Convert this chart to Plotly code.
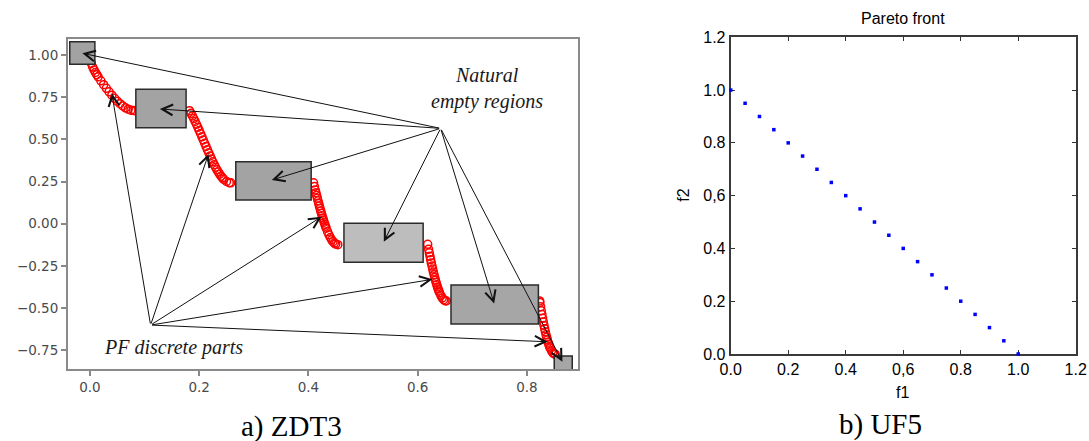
import plotly.graph_objects as go

# ---------------- ZDT3 (left) : Pareto-front discrete parts ----------------
seg1_f1 = [0.0, 0.0025, 0.005, 0.0075, 0.010, 0.0125, 0.015, 0.020, 0.025, 0.030, 0.035,
           0.040, 0.045, 0.050, 0.055, 0.060, 0.065, 0.070, 0.075, 0.080, 0.083]
seg1_f2 = [1.0, 0.9498, 0.9285, 0.9116, 0.8969, 0.8834, 0.8707, 0.8468, 0.8242, 0.8025, 0.7817,
           0.7620, 0.7434, 0.7264, 0.7112, 0.6980, 0.6871, 0.6788, 0.6731, 0.6702, 0.6697]
seg2_f1 = [0.1822, 0.185, 0.1875, 0.190, 0.1925, 0.195, 0.1975, 0.200, 0.2025, 0.205, 0.2075,
           0.210, 0.2125, 0.215, 0.2175, 0.220, 0.2225, 0.225, 0.2275, 0.230, 0.2325, 0.235,
           0.2375, 0.240, 0.2425, 0.245, 0.250, 0.255, 0.2577]
seg2_f2 = [0.6699, 0.6539, 0.6388, 0.6228, 0.6062, 0.5889, 0.5711, 0.5528, 0.5341, 0.5151, 0.4961,
           0.4768, 0.4577, 0.4387, 0.4200, 0.4017, 0.3838, 0.3666, 0.3500, 0.3343, 0.3196, 0.3058,
           0.2933, 0.2818, 0.2718, 0.2630, 0.2500, 0.2431, 0.2422]
seg3_f1 = [0.4093, 0.411, 0.4125, 0.41375, 0.415, 0.41625, 0.4175, 0.41875, 0.420, 0.42125,
           0.4225, 0.42375, 0.425, 0.42625, 0.4275, 0.42875, 0.430, 0.43125, 0.4325,
           0.435, 0.4375, 0.440, 0.4425, 0.445, 0.4475, 0.450, 0.4538]
seg3_f2 = [0.2422, 0.2197, 0.1998, 0.1836, 0.1674, 0.1514, 0.1358, 0.1202, 0.1050, 0.0902,
           0.0756, 0.0614, 0.0476, 0.0341, 0.0211, 0.0085, -0.0036, -0.0153, -0.0264,
           -0.0471, -0.0656, -0.0818, -0.0955, -0.1066, -0.1151, -0.1208, -0.1242]
seg4_f1 = [0.6183, 0.620, 0.62125, 0.6225, 0.62375, 0.625, 0.62625, 0.6275, 0.62875, 0.630,
           0.63125, 0.6325, 0.63375, 0.635, 0.63625, 0.6375, 0.63875, 0.640, 0.6425,
           0.645, 0.6475, 0.650, 0.6525]
seg4_f2 = [-0.1225, -0.1518, -0.1728, -0.1933, -0.2132, -0.2325, -0.2513, -0.2693, -0.2867, -0.3034,
           -0.3194, -0.3346, -0.3490, -0.3627, -0.3755, -0.3874, -0.3985, -0.4087, -0.4264,
           -0.4402, -0.4502, -0.4562, -0.4583]
seg5_f1 = [0.8233, 0.82375, 0.825, 0.82625, 0.8275, 0.82875, 0.830, 0.83125, 0.8325, 0.83375,
           0.835, 0.83625, 0.8375, 0.83875, 0.840, 0.84125, 0.8425, 0.845, 0.8475, 0.850, 0.8518]
seg5_f2 = [-0.4579, -0.4668, -0.4917, -0.5157, -0.5389, -0.5612, -0.5825, -0.6029, -0.6222, -0.6406,
           -0.6578, -0.6739, -0.6889, -0.7027, -0.7154, -0.7269, -0.7371, -0.7538, -0.7655,
           -0.7720, -0.7733]

# natural empty regions (f1 from, f1 to, f2 from, f2 to)
empty_regions = [
    (-0.037, 0.009, 0.945, 1.079),
    (0.084, 0.176, 0.569, 0.797),
    (0.267, 0.405, 0.140, 0.367),
    (0.465, 0.610, -0.228, 0.002),
    (0.661, 0.821, -0.594, -0.364),
    (0.850, 0.883, -0.874, -0.784),
]
region_fills = ["#a2a2a2", "#a3a3a3", "#a3a3a3", "#bdbdbd", "#a6a6a6", "#a6a6a6"]

natural_hub = (0.642, 0.565)
natural_targets = [(-0.014, 1.010), (0.128, 0.680), (0.333, 0.259),
                   (0.538, -0.107), (0.740, -0.473), (0.865, -0.819)]
pf_hub = (0.111, -0.601)
pf_targets = [(0.040, 0.773), (0.217, 0.413), (0.424, 0.041),
              (0.627, -0.330), (0.838, -0.700)]

zdt3_xticks = [0.0, 0.2, 0.4, 0.6, 0.8]
zdt3_xticktext = ["0.0", "0.2", "0.4", "0.6", "0.8"]
zdt3_yticks = [-0.75, -0.50, -0.25, 0.0, 0.25, 0.50, 0.75, 1.00]
zdt3_yticktext = ["\u22120.75", "\u22120.50", "\u22120.25", "0.00", "0.25", "0.50", "0.75", "1.00"]

# ---------------- UF5 (right) ----------------
uf5_f1 = [0.00, 0.05, 0.10, 0.15, 0.20, 0.25, 0.30, 0.35, 0.40, 0.45, 0.50,
          0.55, 0.60, 0.65, 0.70, 0.75, 0.80, 0.85, 0.90, 0.95, 1.00]
uf5_f2 = [1.00, 0.95, 0.90, 0.85, 0.80, 0.75, 0.70, 0.65, 0.60, 0.55, 0.50,
          0.45, 0.40, 0.35, 0.30, 0.25, 0.20, 0.15, 0.10, 0.05, 0.00]
uf5_ticks = [0.0, 0.2, 0.4, 0.6, 0.8, 1.0, 1.2]
uf5_ticktext = ["0.0", "0.2", "0.4", "0,6", "0.8", "1.0", "1.2"]

fig = go.Figure()

zdt3_f1 = seg1_f1 + seg2_f1 + seg3_f1 + seg4_f1 + seg5_f1
zdt3_f2 = seg1_f2 + seg2_f2 + seg3_f2 + seg4_f2 + seg5_f2
fig.add_trace(go.Scatter(
    x=zdt3_f1, y=zdt3_f2, mode="markers", xaxis="x", yaxis="y",
    marker=dict(symbol="circle-open", size=8, color="#ff0000", line=dict(width=1.5, color="#ff1010")),
    hoverinfo="skip"))

fig.add_trace(go.Scatter(
    x=uf5_f1, y=uf5_f2, mode="markers", xaxis="x2", yaxis="y2", cliponaxis=False,
    marker=dict(symbol="square", size=3.5, color="#0000ff", line=dict(width=0)),
    hoverinfo="skip"))

shapes = []
for (x0, x1, y0, y1), fc in zip(empty_regions, region_fills):
    shapes.append(dict(type="rect", xref="x", yref="y", x0=x0, x1=x1, y0=y0, y1=y1,
                       fillcolor=fc, line=dict(color="#2b2b2b", width=1.5), layer="above"))

annotations = []
for hub, targets in ((natural_hub, natural_targets), (pf_hub, pf_targets)):
    for tx, ty in targets:
        annotations.append(dict(
            x=tx, y=ty, ax=hub[0], ay=hub[1], xref="x", yref="y", axref="x", ayref="y",
            text="", showarrow=True, arrowhead=5, arrowsize=2.1, arrowwidth=1.0,
            arrowcolor="#111111", standoff=0, startstandoff=0))

serif_it = dict(family="Liberation Serif, Times New Roman, serif", size=20, color="#1a1a1a")
annotations += [
    dict(x=0.727, y=0.881, xref="x", yref="y", text="<i>Natural</i>", showarrow=False, font=serif_it,
         xanchor="center", yanchor="middle"),
    dict(x=0.727, y=0.723, xref="x", yref="y", text="<i>empty regions</i>", showarrow=False, font=serif_it,
         xanchor="center", yanchor="middle"),
    dict(x=0.1526, y=-0.7364, xref="x", yref="y", text="<i>PF discrete parts</i>", showarrow=False,
         font=serif_it, xanchor="center", yanchor="middle"),
]

cap_font = dict(family="Liberation Serif, Times New Roman, serif", size=29, color="#000000")
sans = "Liberation Sans, Arial, sans-serif"
paper_texts = [
    (0.2679, 0.034, "a) ZDT3", cap_font, 0),
    (0.8081, 0.0385, "b) UF5", cap_font, 0),
    (0.8295, 0.9585, "Pareto front", dict(family=sans, size=16, color="#000000"), 0),
    (0.8289, 0.1095, "f1", dict(family=sans, size=16, color="#000000"), 0),
    (0.6269, 0.5578, "f2", dict(family=sans, size=16, color="#000000"), -90),
]
for px, py, txt, fnt, ang in paper_texts:
    annotations.append(dict(x=px, y=py, xref="paper", yref="paper", text=txt, showarrow=False,
                            font=fnt, textangle=ang, xanchor="center", yanchor="middle"))

left_tick_font = dict(family="DejaVu Sans, sans-serif", size=13.5, color="#4a4a4a")
right_tick_font = dict(family=sans, size=16, color="#000000")

fig.update_layout(
    width=1089, height=441, margin=dict(l=0, r=0, t=0, b=0, autoexpand=False),
    paper_bgcolor="white", plot_bgcolor="white", showlegend=False,
    shapes=shapes, annotations=annotations,
    xaxis=dict(domain=[0.0624, 0.5305], range=[-0.0403, 0.893], anchor="y", automargin=False,
               tickvals=zdt3_xticks, ticktext=zdt3_xticktext, ticks="outside", ticklen=5,
               tickcolor="#888888", tickwidth=1.5, showline=True, linecolor="#8a8a8a", linewidth=2,
               mirror=True, showgrid=False, zeroline=False, tickfont=left_tick_font),
    yaxis=dict(domain=[0.1633, 0.9116], range=[-0.8613, 1.0949], anchor="x", automargin=False,
               tickvals=zdt3_yticks, ticktext=zdt3_yticktext, ticks="outside", ticklen=5,
               tickcolor="#888888", tickwidth=1.5, showline=True, linecolor="#8a8a8a", linewidth=2,
               mirror=True, showgrid=False, zeroline=False, tickfont=left_tick_font),
    xaxis2=dict(domain=[0.6710, 0.9878], range=[0, 1.2], anchor="y2", automargin=False,
                tickvals=uf5_ticks, ticktext=uf5_ticktext, ticks="inside", ticklen=4,
                tickcolor="#333333", showline=True, linecolor="#3a3a3a", linewidth=2,
                mirror="allticks", showgrid=False, zeroline=False, tickfont=right_tick_font,
                layer="below traces"),
    yaxis2=dict(domain=[0.1973, 0.9154], range=[0, 1.2], anchor="x2", automargin=False,
                tickvals=uf5_ticks, ticktext=uf5_ticktext, ticks="inside", ticklen=4,
                tickcolor="#333333", showline=True, linecolor="#3a3a3a", linewidth=2,
                mirror="allticks", showgrid=False, zeroline=False, tickfont=right_tick_font,
                layer="below traces"),
)

fig.write_html("out.html")
